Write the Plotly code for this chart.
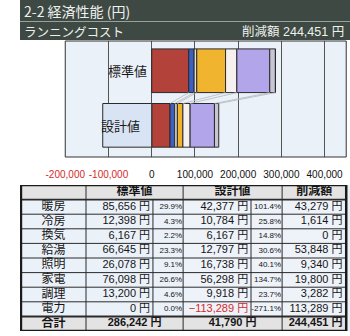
import plotly.graph_objects as go

# ---------------- data ----------------
title_text = "2-2 経済性能 (円)"
subtitle_text = "ランニングコスト"
reduction_label = "削減額"
categories = ["標準値", "設計値"]
uses = ["暖房", "冷房", "換気", "給湯", "照明", "家電", "調理", "電力"]
standard = [85656, 12398, 6167, 66645, 26078, 76098, 13200, 0]
design = [42377, 10784, 6167, 12797, 16738, 56298, 9918, -113289]
standard_pct = ["29.9%", "4.3%", "2.2%", "23.3%", "9.1%", "26.6%", "4.6%", "0.0%"]
design_pct = ["101.4%", "25.8%", "14.8%", "30.6%", "40.1%", "134.7%", "23.7%", "-271.1%"]
reduction = [43279, 1614, 0, 53848, 9340, 19800, 3282, 113289]
total_standard = 286242
total_design = 41790
total_reduction = 244451
total_label = "合計"
tick_vals = [-200000, -100000, 0, 100000, 200000, 300000, 400000]

# ---------------- styles ----------------
W, H = 350, 336
colors = ["#b3423b", "#3d5fc2", "#dfe3d8", "#f1b42e", "#f6f1ee", "#b2a5ea", "#c9c6d4", "#d8e4f3"]
JP = "Noto Sans CJK JP"
NUM = "Liberation Sans, Noto Sans CJK JP"
DARK = "#3e4943"
RED = "#d42a2a"


def px_x(v):
    return v / W


def px_y(v):
    return 1 - v / H


def yen(v):
    return f"{v:,} 円".replace("-", "−")


fig = go.Figure()

# ---------------- stacked bars ----------------
ypos = [1, 0]
for i, u in enumerate(uses):
    fig.add_trace(go.Bar(
        y=ypos, x=[standard[i], design[i]], orientation="h", width=0.8,
        name=u, marker=dict(color=colors[i], line=dict(color="#2a2a2a", width=1)),
        showlegend=False, hoverinfo="skip"))

# series lines between bars
cs, cd = 0, 0
lx, ly = [], []
for i in range(len(uses)):
    if standard[i] > 0 and design[i] > 0:
        cs += standard[i]
        cd += design[i]
        lx += [cs, cd, None]
        ly += [0.6, 0.4, None]
fig.add_trace(go.Scatter(x=lx, y=ly, mode="lines", line=dict(color="#b4b7be", width=0.8),
                         showlegend=False, hoverinfo="skip"))

# category labels
for c, yv, sh in zip(categories, ypos, [-3, -10]):
    fig.add_annotation(x=0, y=yv, xref="x", yref="y", text=c, showarrow=False,
                       xanchor="right", xshift=sh, font=dict(family=JP, size=13, color="#1a1a1a"))

ticktext = []
for t in tick_vals:
    s = f"{t:,}"
    if t < 0:
        s = f'<span style="color:{RED}">{s}</span>'
    ticktext.append(s)

fig.update_layout(
    width=W, height=H, margin=dict(l=0, r=0, t=0, b=0),
    paper_bgcolor="white", plot_bgcolor="#ebf1f9",
    barmode="relative",
    xaxis=dict(domain=[px_x(48), px_x(346)], range=[-200000, 450000],
               tickvals=tick_vals, ticktext=ticktext, showgrid=True,
               gridcolor="#555555", gridwidth=1, zeroline=False, showline=False,
               ticks="outside", ticklen=8, tickcolor="rgba(0,0,0,0)",
               tickfont=dict(family=NUM, size=10, color="#111"), fixedrange=True),
    yaxis=dict(domain=[px_y(157), px_y(41)], range=[-0.58, 1.545], visible=False,
               fixedrange=True),
    xaxis2=dict(domain=[0, 1], range=[0, W], visible=False, anchor="y2", fixedrange=True),
    yaxis2=dict(domain=[px_y(331), px_y(185)], range=[10, 0], visible=False, anchor="x2",
                fixedrange=True),
)

shapes = []
# plot border
shapes.append(dict(type="rect", xref="x domain", yref="y domain", x0=0, x1=1, y0=0, y1=1,
                   line=dict(color="#333", width=1)))
# header bands
shapes.append(dict(type="rect", xref="paper", yref="paper", x0=0, x1=1, y0=px_y(40), y1=1,
                   fillcolor=DARK, line=dict(width=0), layer="below"))
shapes.append(dict(type="line", xref="paper", yref="paper", x0=0, x1=1, y0=px_y(21.5),
                   y1=px_y(21.5), line=dict(color="#98a29d", width=1)))

# ---------------- table ----------------
COL = [1, 70, 141, 173, 245, 278, 346]
nrow = len(uses)
# backgrounds
shapes.append(dict(type="rect", xref="x2", yref="y2", x0=COL[0], x1=COL[-1], y0=0, y1=1,
                   fillcolor="#e3e3e3", line=dict(width=0), layer="below"))
shapes.append(dict(type="rect", xref="x2", yref="y2", x0=COL[0], x1=COL[-1], y0=nrow + 1,
                   y1=nrow + 2, fillcolor="#e3e3e3", line=dict(width=0), layer="below"))
shapes.append(dict(type="rect", xref="x2", yref="y2", x0=COL[3], x1=COL[-1], y0=1,
                   y1=nrow + 1, fillcolor="#eef2f9", line=dict(width=0), layer="below"))
# horizontal lines
for r in range(1, nrow + 2):
    wdt = 1.6 if r == 1 else (2 if r == nrow + 1 else 1)
    shapes.append(dict(type="line", xref="x2", yref="y2", x0=COL[0], x1=COL[-1], y0=r, y1=r,
                       line=dict(color="#2b2b2b", width=wdt)))
# vertical lines
for ci, xv in enumerate(COL[1:-1], start=1):
    if ci in (2, 4):
        y0, y1 = 1, nrow + 1
    else:
        y0, y1 = 0, nrow + 2
    shapes.append(dict(type="line", xref="x2", yref="y2", x0=xv, x1=xv, y0=y0, y1=y1,
                       line=dict(color="#2b2b2b", width=1)))
# outer border
shapes.append(dict(type="rect", xref="x2", yref="y2", x0=COL[0], x1=COL[-1], y0=0,
                   y1=nrow + 2, line=dict(color="#1a1a1a", width=2.5)))
fig.update_layout(shapes=shapes)

rows_y = [r + 1.5 for r in range(nrow)]


def text_trace(x, y, text, size=11, family=NUM, color="#151515", pos="middle left",
               weight="normal"):
    fig.add_trace(go.Scatter(x=x, y=y, text=text, mode="text", textposition=pos,
                             textfont=dict(family=family, size=size, color=color,
                                           weight=weight),
                             xaxis="x2", yaxis="y2", showlegend=False, hoverinfo="skip"))


# header row
hdr_x = [(COL[1] + COL[3]) / 2, (COL[3] + COL[5]) / 2, (COL[5] + COL[6]) / 2]
text_trace(hdr_x, [0.5] * 3, categories + [reduction_label], size=12, family=JP,
           pos="middle center", weight="bold")
# body
text_trace([(COL[0] + COL[1]) / 2] * nrow, rows_y, uses, size=12, family=JP,
           pos="middle center")
text_trace([COL[2] - 3] * nrow, rows_y, [yen(v) for v in standard])
text_trace([COL[3] - 1] * nrow, rows_y, standard_pct, size=8)
text_trace([COL[4] - 3] * nrow, rows_y, [yen(v) for v in design],
           color=[RED if v < 0 else "#151515" for v in design])
text_trace([COL[5] - 1] * nrow, rows_y, design_pct, size=8)
text_trace([COL[6] - 4] * nrow, rows_y, [yen(v) for v in reduction])
# total row
ty = nrow + 1.5
text_trace([(COL[0] + COL[1]) / 2], [ty], [total_label], size=12, family=JP,
           pos="middle center", weight="bold")
text_trace([hdr_x[0], hdr_x[1]], [ty, ty], [yen(total_standard), yen(total_design)],
           pos="middle center", weight="bold")
text_trace([COL[6] - 4], [ty], [yen(total_reduction)], weight="bold")

# ---------------- header texts ----------------
fig.add_annotation(x=px_x(2), y=px_y(11), xref="paper", yref="paper", text=title_text,
                   showarrow=False, xanchor="left", yanchor="middle",
                   font=dict(family=JP, size=14, color="#eef0ee"))
fig.add_annotation(x=px_x(2), y=px_y(31), xref="paper", yref="paper", text=subtitle_text,
                   showarrow=False, xanchor="left", yanchor="middle",
                   font=dict(family=JP, size=12.5, color="#eef0ee"))
fig.add_annotation(x=px_x(346), y=px_y(31), xref="paper", yref="paper",
                   text=f"{reduction_label} {yen(total_reduction)}",
                   showarrow=False, xanchor="right", yanchor="middle",
                   font=dict(family=NUM, size=12.5, color="#eef0ee"))

fig.write_html("out.html")
